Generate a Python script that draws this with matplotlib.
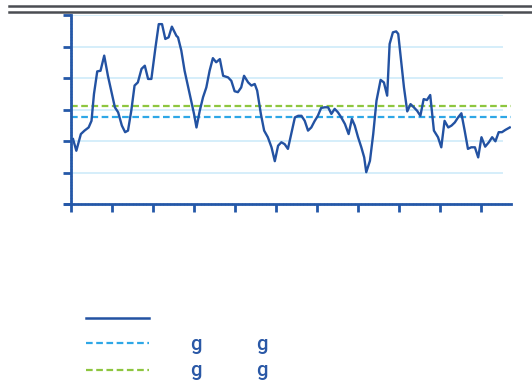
import matplotlib
matplotlib.use("Agg")
import matplotlib.pyplot as plt
from matplotlib.lines import Line2D

# monthly series, x in years since start
years = [
    0.05, 0.13, 0.24, 0.33, 0.43, 0.50, 0.56, 0.64, 0.72, 0.81,
    0.90, 1.00, 1.07, 1.15, 1.24, 1.32, 1.39, 1.47, 1.55, 1.63,
    1.72, 1.80, 1.88, 1.96, 2.06, 2.14, 2.22, 2.30, 2.38, 2.46,
    2.57, 2.61, 2.69, 2.77, 2.85, 2.93, 3.00, 3.06, 3.14, 3.22,
    3.30, 3.38, 3.46, 3.54, 3.63, 3.71, 3.83, 3.91, 3.99, 4.07,
    4.15, 4.22, 4.32, 4.40, 4.48, 4.54, 4.63, 4.71, 4.80, 4.89,
    4.97, 5.05, 5.13, 5.21, 5.29, 5.37, 5.46, 5.54, 5.62, 5.70,
    5.78, 5.86, 5.94, 6.02, 6.10, 6.19, 6.27, 6.35, 6.43, 6.51,
    6.59, 6.68, 6.77, 6.85, 6.92, 7.00, 7.08, 7.15, 7.20, 7.29,
    7.37, 7.45, 7.55, 7.63, 7.71, 7.77, 7.85, 7.93, 7.98, 8.06,
    8.12, 8.20, 8.28, 8.36, 8.44, 8.52, 8.60, 8.68, 8.76, 8.85,
    8.95, 9.03, 9.11, 9.20, 9.28, 9.36, 9.44, 9.52, 9.60, 9.68,
    9.76, 9.85, 9.93, 10.01, 10.10, 10.19, 10.27, 10.35, 10.43, 10.51,
    10.59, 10.70,
]
values = [
    2.06, 1.69, 2.22, 2.33, 2.43, 2.64, 3.49, 4.21, 4.23, 4.71,
    4.07, 3.49, 3.07, 2.91, 2.49, 2.28, 2.33, 2.96, 3.76, 3.86,
    4.29, 4.39, 3.97, 3.97, 4.97, 5.71, 5.71, 5.24, 5.29, 5.63,
    5.34, 5.29, 4.87, 4.23, 3.76, 3.28, 2.86, 2.43, 2.96, 3.39,
    3.70, 4.23, 4.63, 4.50, 4.60, 4.07, 4.02, 3.91, 3.58, 3.55,
    3.70, 4.07, 3.86, 3.76, 3.81, 3.60, 2.86, 2.33, 2.12, 1.80,
    1.36, 1.85, 1.96, 1.90, 1.75, 2.22, 2.75, 2.80, 2.80, 2.64,
    2.33, 2.43, 2.63, 2.80, 3.05, 3.07, 3.07, 2.86, 3.02, 2.91,
    2.75, 2.54, 2.22, 2.70, 2.49, 2.12, 1.80, 1.48, 1.01, 1.37,
    2.22, 3.28, 3.94, 3.86, 3.44, 5.08, 5.45, 5.48, 5.40, 4.44,
    3.70, 2.94, 3.17, 3.07, 2.96, 2.80, 3.33, 3.30, 3.46, 2.33,
    2.12, 1.80, 2.64, 2.43, 2.49, 2.59, 2.75, 2.88, 2.33, 1.75,
    1.80, 1.80, 1.48, 2.12, 1.82, 1.96, 2.12, 1.99, 2.28, 2.28,
    2.35, 2.43,
]
mean_value = 2.75
ref_value = 3.11
legend_labels = [[], ["g", "g"], ["g", "g"]]

W, H = 532, 384
plt.rcParams['font.family'] = ['Roboto', 'DejaVu Sans']
fig = plt.figure(figsize=(W / 100, H / 100), dpi=100)

def fx(px):
    return px / W

def fy(py):
    return 1 - py / H

dark_blue = '#2352a2'
light_blue = '#2ea7e6'
green = '#8dc63f'
grid_col = '#d5eefa'
axis_col = '#2558a8'

ax = fig.add_axes([fx(71), fy(204), fx(511) - fx(71), fy(15) - fy(204)])
ax.set_xlim(0, 10.73)
ax.set_ylim(0, 6)

for g in range(1, 7):
    ax.axhline(g, xmax=0.98, color=grid_col, lw=1.4, zorder=0)

ax.axhline(mean_value, color=light_blue, lw=1.6, ls=(0, (3, 1.6)), zorder=1)
ax.axhline(ref_value, color=green, lw=1.6, ls=(0, (3, 1.6)), zorder=1)
ax.plot(years, values, color=dark_blue, lw=1.7, zorder=2)

for s in ['top', 'right']:
    ax.spines[s].set_visible(False)
for s in ['left', 'bottom']:
    ax.spines[s].set_color(axis_col)
    ax.spines[s].set_linewidth(2)
ax.spines['bottom'].set_bounds(-0.15, 10.73)

ax.set_xticks(range(0, 11))
ax.set_yticks(range(0, 7))
ax.set_xticks([m / 12 for m in range(0, 129)], minor=True)
ax.set_yticks([v / 10 for v in range(0, 61)], minor=True)
ax.tick_params(which='major', direction='out', length=6, width=2,
               color=axis_col, labelbottom=False, labelleft=False)
ax.tick_params(which='minor', direction='inout', length=2, width=0.6,
               color='#7fa3d6')

# rule across the top
for py in (6, 12):
    fig.add_artist(Line2D([fx(9), fx(532)], [fy(py), fy(py)],
                          color='#4a4d52', lw=1.8))

# legend
styles = [
    dict(color=dark_blue, lw=1.8, ls='-'),
    dict(color=light_blue, lw=1.6, ls=(0, (3, 1.6))),
    dict(color=green, lw=1.6, ls=(0, (3, 1.6))),
]
line_rows = [318, 343, 370]
for row, (style, labels) in enumerate(zip(styles, legend_labels)):
    py = line_rows[row]
    fig.add_artist(Line2D([fx(86), fx(149)], [fy(py), fy(py)], **style))
    for col, label in enumerate(labels):
        fig.text(fx(190 + col * 66), fy(325 + row * 25.5), label,
                 color='#2a58a6', fontsize=14.5, fontweight='medium',
                 va='baseline', ha='left')

fig.savefig('out.png', dpi=100)
